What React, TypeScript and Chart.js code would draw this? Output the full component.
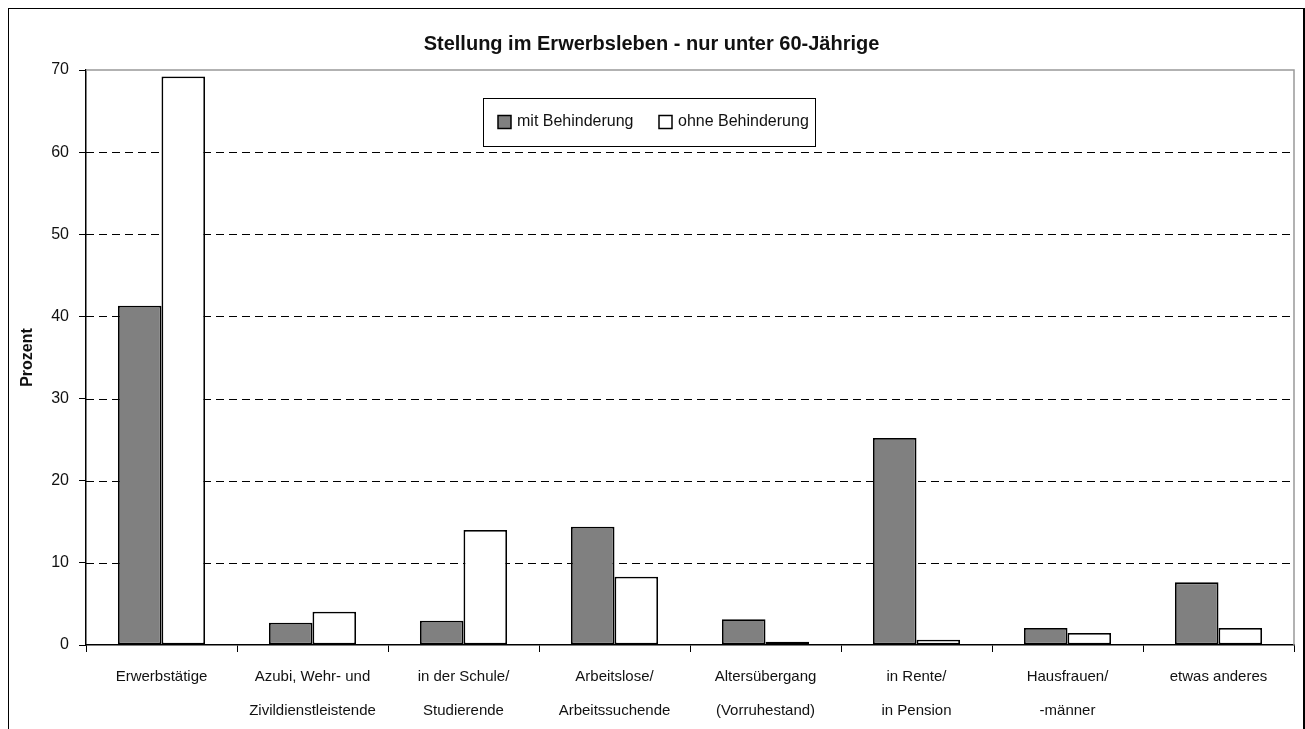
import React, { useEffect, useRef } from "react";
import { Chart, registerables } from "chart.js";

Chart.register(...registerables);

const categories: string[][] = [
  ["Erwerbstätige"],
  ["Azubi, Wehr- und", "Zivildienstleistende"],
  ["in der Schule/", "Studierende"],
  ["Arbeitslose/", "Arbeitssuchende"],
  ["Altersübergang", "(Vorruhestand)"],
  ["in Rente/", "in Pension"],
  ["Hausfrauen/", "-männer"],
  ["etwas anderes"],
];
const mitBehinderung = [41.3, 2.7, 2.95, 14.4, 3.15, 25.2, 2.07, 7.63];
const ohneBehinderung = [69.2, 4.05, 14.0, 8.3, 0.4, 0.64, 1.46, 2.07];
const seriesNames = ["mit Behinderung", "ohne Behinderung"];
const yTicks = { min: 0, max: 70, step: 10 };
const titleText = "Stellung im Erwerbsleben - nur unter 60-Jährige";
const yTitle = "Prozent";

const FONT = "'Liberation Sans', Arial, sans-serif";

const plotDecor = {
  id: "plotDecor",
  beforeDatasetsDraw(chart: any) {
    const { ctx, chartArea, scales } = chart;
    const y = scales.y;
    ctx.save();
    ctx.strokeStyle = "#000";
    ctx.lineWidth = 1;
    ctx.setLineDash([8, 5]);
    for (let v = yTicks.min + yTicks.step; v < yTicks.max; v += yTicks.step) {
      const py = Math.round(y.getPixelForValue(v)) + 0.5;
      ctx.beginPath();
      ctx.moveTo(chartArea.left, py);
      ctx.lineTo(chartArea.right, py);
      ctx.stroke();
    }
    ctx.restore();
  },
  afterDraw(chart: any) {
    const { ctx, chartArea } = chart;
    ctx.save();
    ctx.strokeStyle = "#999";
    ctx.lineWidth = 1.5;
    ctx.beginPath();
    ctx.moveTo(chartArea.left, chartArea.top);
    ctx.lineTo(chartArea.right, chartArea.top);
    ctx.lineTo(chartArea.right, chartArea.bottom);
    ctx.stroke();
    // legend
    const bx = 474, by = 89, bw = 332, bh = 48;
    ctx.fillStyle = "#fff";
    ctx.fillRect(bx, by, bw, bh);
    ctx.strokeStyle = "#000";
    ctx.lineWidth = 1;
    ctx.strokeRect(bx + 0.5, by + 0.5, bw, bh);
    ctx.font = "16px " + FONT;
    ctx.textBaseline = "middle";
    ctx.textAlign = "left";
    const cy = by + bh / 2;
    const items = [
      { x: 489, ds: chart.data.datasets[0] },
      { x: 650, ds: chart.data.datasets[1] },
    ];
    for (const it of items) {
      ctx.fillStyle = it.ds.backgroundColor;
      ctx.fillRect(it.x, cy - 6.5, 13, 13);
      ctx.strokeStyle = "#000";
      ctx.lineWidth = 1.5;
      ctx.strokeRect(it.x, cy - 6.5, 13, 13);
      ctx.fillStyle = "#111";
      ctx.fillText(it.ds.label, it.x + 19, cy);
    }
    ctx.restore();
  },
};

export default function App() {
  const ref = useRef<HTMLCanvasElement | null>(null);
  useEffect(() => {
    document.documentElement.style.overflow = "hidden";
    document.body.style.overflow = "hidden";
    if (!ref.current) return;
    const chart = new Chart(ref.current, {
      type: "bar",
      data: {
        labels: categories,
        datasets: [
          {
            label: seriesNames[0],
            data: mitBehinderung,
            backgroundColor: "#808080",
            borderColor: "#000",
            borderWidth: 1.8,
            borderSkipped: false,
            categoryPercentage: 0.577,
            barPercentage: 1,
          },
          {
            label: seriesNames[1],
            data: ohneBehinderung,
            backgroundColor: "#ffffff",
            borderColor: "#000",
            borderWidth: 1.8,
            borderSkipped: false,
            categoryPercentage: 0.577,
            barPercentage: 1,
          },
        ],
      },
      options: {
        animation: false,
        responsive: true,
        maintainAspectRatio: false,
        layout: { padding: { left: 0, right: 9, top: 0, bottom: 0 } },
        plugins: {
          legend: { display: false },
          tooltip: { enabled: false },
          title: {
            display: true,
            text: titleText,
            color: "#111",
            font: { family: FONT, size: 20, weight: "bold", lineHeight: 1.2 },
            padding: { top: 23, bottom: 14 },
          },
        },
        scales: {
          x: {
            grid: {
              display: true,
              drawOnChartArea: false,
              offset: true,
              tickLength: 7,
              tickColor: "#000",
              tickWidth: 1,
            },
            border: { display: true, color: "#000", width: 1.5 },
            ticks: {
              color: "#111",
              font: { family: FONT, size: 15, lineHeight: "34px" as any },
              padding: 8,
              maxRotation: 0,
              autoSkip: false,
            },
            afterFit(scale: any) {
              scale.height = 104;
            },
          },
          y: {
            min: yTicks.min,
            max: yTicks.max,
            ticks: {
              stepSize: yTicks.step,
              color: "#111",
              font: { family: FONT, size: 16 },
              padding: 10,
            },
            grid: {
              display: true,
              drawOnChartArea: false,
              tickLength: 7,
              tickColor: "#000",
              tickWidth: 1,
            },
            border: { display: true, color: "#000", width: 1.5 },
            title: {
              display: true,
              text: yTitle,
              color: "#111",
              font: { family: FONT, size: 16, weight: "bold", lineHeight: 1.2 },
              padding: { top: 9, bottom: 0 },
            },
            afterFit(scale: any) {
              scale.width = 77;
            },
          },
        },
      },
      plugins: [plotDecor],
    });
    return () => chart.destroy();
  }, []);
  return (
    <div
      style={{
        position: "fixed",
        left: 8,
        top: 8,
        width: 1294,
        height: 740,
        border: "1px solid #000",
        borderRightWidth: 2,
        background: "#fff",
      }}
    >
      <canvas ref={ref} />
    </div>
  );
}
